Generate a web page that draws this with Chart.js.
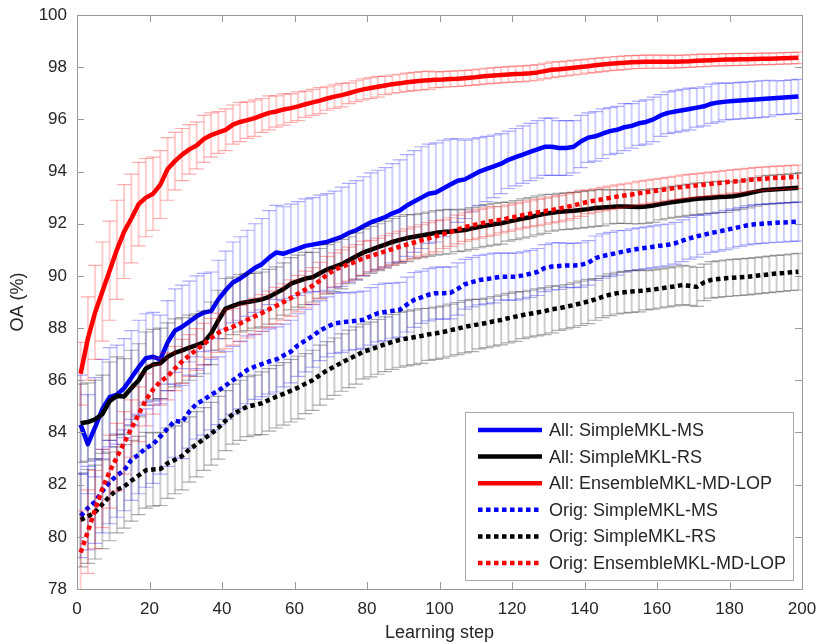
<!DOCTYPE html>
<html>
<head>
<meta charset="utf-8">
<script src="https://cdn.jsdelivr.net/npm/chart.js@4.4.1/dist/chart.umd.min.js"></script>
<style>
  html, body { margin: 0; padding: 0; background: #ffffff; }
  #wrap { width: 816px; height: 644px; }
</style>
</head>
<body>
<div id="wrap"><canvas id="oa" width="816" height="644"></canvas></div>
<script>
// Learning steps (odd steps 1..199)
const steps = Array.from({ length: 100 }, (_, i) => 2 * i + 1);

// All features: SimpleMKL-MS
const allMsMean = [
  84.30,83.55,84.20,84.90,85.35,85.45,85.70,86.10,86.50,86.85,
  86.90,86.80,87.45,87.90,88.05,88.25,88.45,88.60,88.65,89.10,
  89.45,89.75,89.90,90.10,90.30,90.45,90.70,90.90,90.85,90.95,
  91.05,91.15,91.20,91.25,91.30,91.40,91.50,91.65,91.75,91.90,
  92.05,92.15,92.25,92.40,92.50,92.70,92.85,93.00,93.15,93.20,
  93.35,93.50,93.65,93.70,93.85,94.00,94.10,94.20,94.30,94.45,
  94.55,94.65,94.75,94.85,94.95,94.95,94.90,94.90,94.95,95.15,
  95.30,95.35,95.45,95.55,95.60,95.70,95.75,95.85,95.90,96.00,
  96.15,96.25,96.30,96.35,96.40,96.45,96.50,96.60,96.65,96.68,
  96.70,96.72,96.74,96.76,96.78,96.80,96.82,96.84,96.86,96.88
];
const allMsErr = [
  1.9,1.9,1.9,1.9,1.9,1.9,1.9,1.8,1.8,1.7,
  1.7,1.7,1.6,1.6,1.6,1.55,1.55,1.5,1.5,1.5,
  1.5,1.55,1.6,1.65,1.7,1.75,1.8,1.8,1.8,1.8,
  1.8,1.8,1.8,1.85,1.85,1.85,1.9,1.9,1.9,1.9,
  1.9,1.9,1.9,1.9,1.95,1.95,1.95,1.95,1.9,1.9,
  1.85,1.75,1.6,1.5,1.4,1.3,1.25,1.2,1.15,1.1,
  1.1,1.1,1.1,1.1,1.1,1.1,1.05,1.05,1.0,1.0,
  0.95,0.95,0.95,0.9,0.9,0.9,0.85,0.85,0.85,0.85,
  0.8,0.8,0.8,0.8,0.8,0.75,0.75,0.75,0.75,0.7,
  0.7,0.7,0.7,0.7,0.7,0.7,0.65,0.65,0.65,0.65
];

// All features: SimpleMKL-RS
const allRsMean = [
  84.35,84.40,84.50,84.70,85.20,85.40,85.38,85.70,86.00,86.45,
  86.60,86.65,86.90,87.05,87.15,87.25,87.35,87.45,87.80,88.30,
  88.75,88.85,88.95,89.00,89.05,89.10,89.20,89.35,89.50,89.70,
  89.80,89.90,89.95,90.10,90.25,90.35,90.45,90.60,90.75,90.90,
  91.00,91.10,91.20,91.30,91.38,91.45,91.50,91.55,91.60,91.65,
  91.68,91.70,91.73,91.76,91.82,91.88,91.93,91.98,92.02,92.08,
  92.14,92.20,92.25,92.32,92.38,92.42,92.46,92.48,92.50,92.53,
  92.56,92.60,92.62,92.64,92.66,92.66,92.65,92.64,92.66,92.70,
  92.75,92.80,92.84,92.88,92.92,92.96,92.98,93.00,93.02,93.03,
  93.05,93.10,93.16,93.22,93.28,93.30,93.32,93.34,93.36,93.38
];
const allRsErr = [
  1.5,1.5,1.5,1.5,1.5,1.5,1.45,1.45,1.4,1.4,
  1.35,1.35,1.3,1.3,1.25,1.25,1.2,1.2,1.2,1.15,
  1.15,1.1,1.1,1.1,1.05,1.05,1.05,1.0,1.0,1.0,
  1.0,1.0,0.95,0.95,0.95,0.95,0.95,0.9,0.9,0.9,
  0.9,0.9,0.9,0.9,0.9,0.9,0.85,0.85,0.85,0.85,
  0.85,0.85,0.8,0.8,0.8,0.8,0.8,0.8,0.8,0.75,
  0.75,0.75,0.75,0.75,0.75,0.7,0.7,0.7,0.7,0.7,
  0.7,0.7,0.7,0.65,0.65,0.65,0.65,0.65,0.65,0.65,
  0.6,0.6,0.6,0.6,0.6,0.6,0.6,0.6,0.6,0.6,
  0.55,0.55,0.55,0.55,0.55,0.55,0.55,0.55,0.55,0.55
];

// All features: EnsembleMKL-MD-LOP
const allEnsMean = [
  86.25,87.60,88.60,89.40,90.20,91.00,91.70,92.20,92.75,93.00,
  93.15,93.50,94.10,94.40,94.65,94.85,95.00,95.25,95.40,95.50,
  95.60,95.80,95.90,95.97,96.05,96.15,96.25,96.30,96.38,96.43,
  96.50,96.58,96.65,96.72,96.80,96.87,96.93,97.00,97.08,97.15,
  97.20,97.25,97.30,97.35,97.38,97.42,97.45,97.48,97.50,97.52,
  97.53,97.55,97.56,97.58,97.60,97.63,97.66,97.68,97.70,97.72,
  97.74,97.75,97.77,97.80,97.85,97.90,97.92,97.95,97.98,98.01,
  98.04,98.07,98.10,98.13,98.15,98.17,98.19,98.20,98.21,98.21,
  98.21,98.21,98.21,98.22,98.23,98.25,98.26,98.27,98.28,98.29,
  98.29,98.30,98.30,98.31,98.32,98.32,98.33,98.34,98.35,98.36
];
const allEnsErr = [
  1.2,1.6,1.8,1.9,1.9,1.9,1.8,1.7,1.6,1.5,
  1.4,1.3,1.2,1.1,1.0,0.95,0.9,0.9,0.85,0.8,
  0.8,0.75,0.75,0.7,0.7,0.65,0.65,0.6,0.6,0.55,
  0.55,0.5,0.5,0.5,0.45,0.45,0.45,0.4,0.4,0.4,
  0.4,0.4,0.35,0.35,0.35,0.35,0.35,0.35,0.35,0.3,
  0.3,0.3,0.3,0.3,0.3,0.3,0.3,0.3,0.3,0.3,
  0.3,0.3,0.3,0.3,0.3,0.3,0.28,0.28,0.28,0.28,
  0.27,0.27,0.27,0.26,0.26,0.26,0.25,0.25,0.25,0.25,
  0.25,0.25,0.24,0.24,0.24,0.24,0.24,0.23,0.23,0.23,
  0.23,0.23,0.23,0.22,0.22,0.22,0.22,0.22,0.22,0.22
];

// Original features: SimpleMKL-MS
const origMsMean = [
  80.80,81.10,81.35,81.75,82.10,82.35,82.55,82.95,83.15,83.40,
  83.55,83.85,84.15,84.45,84.40,84.80,85.10,85.25,85.45,85.60,
  85.80,86.00,86.20,86.40,86.52,86.62,86.72,86.80,86.95,87.10,
  87.35,87.52,87.70,87.90,88.05,88.18,88.22,88.25,88.28,88.32,
  88.45,88.57,88.62,88.66,88.70,88.90,89.08,89.18,89.28,89.34,
  89.34,89.35,89.50,89.68,89.76,89.84,89.88,89.92,89.97,89.97,
  89.97,90.02,90.08,90.15,90.30,90.36,90.38,90.40,90.40,90.42,
  90.50,90.68,90.76,90.82,90.88,90.94,91.00,91.04,91.08,91.12,
  91.16,91.19,91.25,91.35,91.44,91.52,91.58,91.65,91.70,91.76,
  91.82,91.88,91.94,91.98,92.00,92.02,92.04,92.05,92.07,92.08
];
const origMsErr = [
  1.6,1.6,1.6,1.6,1.6,1.6,1.55,1.55,1.5,1.5,
  1.5,1.45,1.45,1.4,1.4,1.4,1.35,1.35,1.35,1.3,
  1.3,1.3,1.3,1.3,1.25,1.25,1.25,1.25,1.2,1.2,
  1.2,1.2,1.2,1.15,1.15,1.15,1.15,1.1,1.1,1.1,
  1.1,1.1,1.1,1.05,1.05,1.05,1.05,1.0,1.0,1.0,
  1.0,1.0,1.0,0.95,0.95,0.95,0.95,0.95,0.9,0.9,
  0.9,0.9,0.9,0.9,0.9,0.9,0.9,0.85,0.85,0.85,
  0.85,0.85,0.85,0.85,0.85,0.8,0.8,0.8,0.8,0.8,
  0.8,0.8,0.8,0.8,0.8,0.8,0.75,0.75,0.75,0.75,
  0.75,0.75,0.75,0.75,0.75,0.75,0.75,0.75,0.75,0.75
];

// Original features: SimpleMKL-RS
const origRsMean = [
  80.65,80.78,80.95,81.25,81.55,81.80,81.93,82.15,82.35,82.55,
  82.58,82.60,82.82,82.95,83.10,83.35,83.55,83.75,83.95,84.18,
  84.45,84.70,84.85,84.99,85.05,85.12,85.25,85.37,85.48,85.60,
  85.72,85.87,86.00,86.20,86.38,86.52,86.68,86.82,86.95,87.10,
  87.18,87.28,87.38,87.47,87.55,87.60,87.65,87.70,87.76,87.80,
  87.85,87.92,87.98,88.05,88.10,88.15,88.20,88.26,88.31,88.38,
  88.44,88.50,88.55,88.60,88.65,88.72,88.76,88.82,88.88,88.95,
  89.02,89.10,89.20,89.28,89.34,89.37,89.40,89.42,89.45,89.48,
  89.52,89.56,89.60,89.65,89.62,89.58,89.75,89.85,89.88,89.91,
  89.93,89.95,89.97,90.00,90.03,90.06,90.09,90.11,90.14,90.16
];
const origRsErr = [
  1.8,1.8,1.8,1.7,1.7,1.65,1.6,1.55,1.5,1.45,
  1.4,1.4,1.35,1.3,1.3,1.25,1.25,1.2,1.2,1.2,
  1.15,1.15,1.15,1.15,1.15,1.2,1.2,1.2,1.2,1.2,
  1.2,1.15,1.15,1.15,1.1,1.1,1.1,1.1,1.1,1.05,
  1.05,1.05,1.05,1.05,1.05,1.05,1.05,1.05,1.0,1.0,
  1.0,1.0,1.0,1.0,1.0,0.95,0.95,0.95,0.95,0.95,
  0.95,0.9,0.9,0.9,0.9,0.9,0.85,0.85,0.85,0.85,
  0.85,0.8,0.8,0.8,0.8,0.8,0.8,0.8,0.75,0.75,
  0.75,0.75,0.75,0.75,0.75,0.75,0.7,0.7,0.7,0.7,
  0.7,0.7,0.7,0.7,0.7,0.7,0.7,0.7,0.7,0.7
];

// Original features: EnsembleMKL-MD-LOP
const origEnsMean = [
  79.40,80.20,81.05,81.85,82.50,83.05,83.60,84.15,84.70,85.25,
  85.65,85.95,86.15,86.45,86.72,86.95,87.18,87.38,87.62,87.82,
  87.95,88.05,88.18,88.32,88.45,88.58,88.72,88.86,89.00,89.15,
  89.32,89.48,89.62,89.82,90.05,90.23,90.35,90.45,90.55,90.68,
  90.76,90.85,90.94,91.03,91.12,91.20,91.28,91.36,91.44,91.52,
  91.60,91.68,91.78,91.87,91.94,92.00,92.06,92.11,92.15,92.21,
  92.27,92.33,92.38,92.43,92.48,92.53,92.58,92.64,92.70,92.78,
  92.84,92.89,92.94,92.99,93.04,93.08,93.12,93.17,93.21,93.25,
  93.29,93.33,93.37,93.41,93.44,93.47,93.50,93.53,93.56,93.59,
  93.62,93.64,93.67,93.70,93.72,93.74,93.76,93.77,93.79,93.80
];
const origEnsErr = [
  1.6,1.6,1.5,1.5,1.4,1.3,1.2,1.1,1.05,1.0,
  0.95,0.9,0.9,0.85,0.85,0.8,0.8,0.8,0.75,0.75,
  0.75,0.7,0.7,0.7,0.7,0.7,0.7,0.7,0.7,0.7,
  0.7,0.7,0.7,0.7,0.7,0.65,0.65,0.65,0.65,0.65,
  0.6,0.6,0.6,0.6,0.6,0.6,0.6,0.6,0.6,0.6,
  0.55,0.55,0.55,0.55,0.55,0.55,0.55,0.55,0.5,0.5,
  0.5,0.5,0.5,0.5,0.5,0.5,0.5,0.5,0.5,0.5,
  0.45,0.45,0.45,0.45,0.45,0.45,0.45,0.45,0.45,0.45,
  0.45,0.45,0.45,0.45,0.45,0.45,0.45,0.45,0.45,0.45,
  0.45,0.45,0.45,0.45,0.45,0.45,0.45,0.45,0.45,0.45
];

const seriesLabels = [
  'All: SimpleMKL-MS', 'All: SimpleMKL-RS', 'All: EnsembleMKL-MD-LOP',
  'Orig: SimpleMKL-MS', 'Orig: SimpleMKL-RS', 'Orig: EnsembleMKL-MD-LOP'
];
const xTicks = [0, 20, 40, 60, 80, 100, 120, 140, 160, 180, 200];
const yTicks = [78, 80, 82, 84, 86, 88, 90, 92, 94, 96, 98, 100];

const FONT = '"Liberation Sans", Arial, Helvetica, sans-serif';
const TEXT = '#262626';
const FRAME = '#9a9a9a';

const styles = [
  { rgb: '0,0,255', dotted: false },
  { rgb: '0,0,0',   dotted: false },
  { rgb: '255,0,0', dotted: false },
  { rgb: '0,0,255', dotted: true },
  { rgb: '0,0,0',   dotted: true },
  { rgb: '255,0,0', dotted: true }
];
const means = [allMsMean, allRsMean, allEnsMean, origMsMean, origRsMean, origEnsMean];
const errs  = [allMsErr, allRsErr, allEnsErr, origMsErr, origRsErr, origEnsErr];

const datasets = means.map((m, k) => ({
  label: seriesLabels[k],
  data: steps.map((s, i) => ({ x: s, y: m[i] })),
  errors: errs[k],
  borderColor: 'rgb(' + styles[k].rgb + ')',
  backgroundColor: 'rgb(' + styles[k].rgb + ')',
  errColor: styles[k].rgb,
  borderWidth: 4.5,
  borderDash: styles[k].dotted ? [4.5, 3.5] : [],
  borderCapStyle: 'butt',
  borderJoinStyle: 'round',
  pointRadius: 0,
  tension: 0,
  fill: false,
  // later series are painted over earlier ones
  order: means.length - k
}));

// Vertical error bars with caps, painted just before each line
const errorBars = {
  id: 'errorBars',
  beforeDatasetDraw(chart, args) {
    const ds = chart.data.datasets[args.index];
    if (!ds.errors) return;
    const { ctx, chartArea: a } = chart;
    const xs = chart.scales.x, ys = chart.scales.y;
    ctx.save();
    ctx.beginPath();
    ctx.rect(a.left, a.top, a.right - a.left, a.bottom - a.top);
    ctx.clip();
    ctx.setLineDash([]);
    const cap = 7;
    ds.data.forEach((p, i) => {
      const e = ds.errors[i];
      const px = xs.getPixelForValue(p.x);
      const yt = ys.getPixelForValue(p.y + e);
      const yb = ys.getPixelForValue(p.y - e);
      ctx.strokeStyle = 'rgba(' + ds.errColor + ',0.2)';
      ctx.lineWidth = 2;
      ctx.beginPath();
      ctx.moveTo(px, yt);
      ctx.lineTo(px, yb);
      ctx.stroke();
      ctx.strokeStyle = 'rgba(' + ds.errColor + ',0.32)';
      ctx.lineWidth = 1.2;
      ctx.beginPath();
      ctx.moveTo(px - cap, yt);
      ctx.lineTo(px + cap, yt);
      ctx.moveTo(px - cap, yb);
      ctx.lineTo(px + cap, yb);
      ctx.stroke();
    });
    ctx.restore();
  }
};

// Boxed axes with inward ticks on all four sides
const boxAxes = {
  id: 'boxAxes',
  afterDatasetsDraw(chart) {
    const { ctx, chartArea: a } = chart;
    const xs = chart.scales.x, ys = chart.scales.y;
    const tl = 7;
    ctx.save();
    ctx.strokeStyle = FRAME;
    ctx.lineWidth = 1;
    ctx.setLineDash([]);
    ctx.strokeRect(Math.round(a.left) + 0.5, Math.round(a.top) + 0.5,
                   Math.round(a.right - a.left), Math.round(a.bottom - a.top));
    ctx.beginPath();
    xTicks.forEach(v => {
      const x = Math.round(xs.getPixelForValue(v)) + 0.5;
      ctx.moveTo(x, a.bottom); ctx.lineTo(x, a.bottom - tl);
      ctx.moveTo(x, a.top); ctx.lineTo(x, a.top + tl);
    });
    yTicks.forEach(v => {
      const y = Math.round(ys.getPixelForValue(v)) + 0.5;
      ctx.moveTo(a.left, y); ctx.lineTo(a.left + tl, y);
      ctx.moveTo(a.right, y); ctx.lineTo(a.right - tl, y);
    });
    ctx.stroke();
    ctx.restore();
  }
};

// Legend box in the lower right corner of the plot
const boxLegend = {
  id: 'boxLegend',
  afterDraw(chart) {
    const { ctx } = chart;
    const L = 465.5, T = 412.5, W = 328, H = 168;
    ctx.save();
    ctx.fillStyle = '#ffffff';
    ctx.fillRect(L, T, W, H);
    ctx.strokeStyle = '#a8a8a8';
    ctx.lineWidth = 1;
    ctx.strokeRect(L, T, W, H);
    ctx.font = '18px ' + FONT;
    ctx.textBaseline = 'middle';
    ctx.textAlign = 'left';
    chart.data.datasets.forEach((ds, k) => {
      const y = 430 + k * 26.6;
      ctx.strokeStyle = ds.borderColor;
      ctx.lineWidth = 4.5;
      ctx.lineCap = 'butt';
      ctx.setLineDash(ds.borderDash);
      ctx.beginPath();
      ctx.moveTo(478, y);
      ctx.lineTo(542, y);
      ctx.stroke();
      ctx.setLineDash([]);
      ctx.fillStyle = TEXT;
      ctx.fillText(ds.label, 549, y + 1);
    });
    ctx.restore();
  }
};

new Chart(document.getElementById('oa'), {
  type: 'line',
  data: { datasets },
  options: {
    responsive: false,
    animation: false,
    devicePixelRatio: 1,
    layout: { padding: { top: 15, right: 14, bottom: 0, left: 0 } },
    plugins: {
      legend: { display: false },
      tooltip: { enabled: false }
    },
    scales: {
      x: {
        type: 'linear',
        min: 0, max: 200,
        afterFit(scale) { scale.height = 55; scale.paddingLeft = 0; scale.paddingRight = 0; },
        afterBuildTicks(scale) { scale.ticks = xTicks.map(v => ({ value: v })); },
        grid: { display: false, drawTicks: false },
        border: { display: false },
        ticks: { color: TEXT, font: { family: FONT, size: 17 }, padding: 10, maxRotation: 0, autoSkip: false },
        title: { display: true, text: 'Learning step', color: TEXT, font: { family: FONT, size: 18 }, padding: { top: 0, bottom: 0 } }
      },
      y: {
        type: 'linear',
        min: 78, max: 100,
        afterFit(scale) { scale.width = 77; scale.paddingTop = 0; scale.paddingBottom = 0; },
        afterBuildTicks(scale) { scale.ticks = yTicks.map(v => ({ value: v })); },
        grid: { display: false, drawTicks: false },
        border: { display: false },
        ticks: { color: TEXT, font: { family: FONT, size: 17 }, padding: 10, autoSkip: false },
        title: { display: true, text: 'OA (%)', color: TEXT, font: { family: FONT, size: 18 }, padding: { top: 7, bottom: 0 } }
      }
    }
  },
  plugins: [errorBars, boxAxes, boxLegend]
});
</script>
</body>
</html>
